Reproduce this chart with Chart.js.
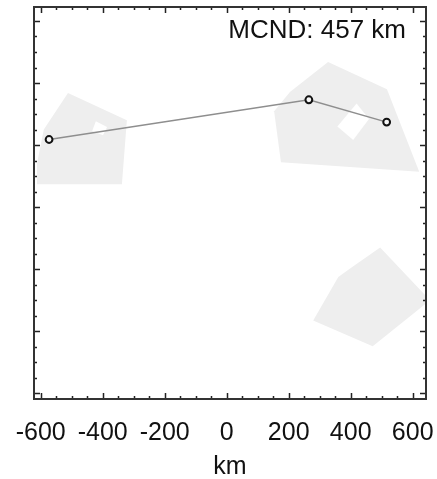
<!DOCTYPE html>
<html>
<head>
<meta charset="utf-8">
<script src="https://cdn.jsdelivr.net/npm/chart.js@4/dist/chart.umd.min.js"></script>
<style>
  body { margin: 0; background: #fff; }
  #wrap { width: 437px; height: 479px; }
</style>
</head>
<body>
<div id="wrap"><canvas id="mapChart" width="437" height="479"></canvas></div>
<script>
// route between the three sites (km)
const routeX = [-573, 265, 516];
const routeY = [218, 346, 274];

// grey regions (km), outline points in drawing order
const regionAX = [-512, -322, -338, -613, -612, -590];
const regionAY = [368, 280, 74, 74, 140, 250];
const holeAX = [-422, -386, -399, -434];
const holeAY = [277, 258, 232, 245];

const regionBX = [327, 517, 621, 175, 153, 204];
const regionBY = [468, 380, 114, 145, 309, 371];
const holeBX = [419, 459, 408, 357];
const holeBY = [334, 284, 216, 260];

const regionCX = [495, 656, 471, 279, 360, 398];
const regionCY = [-130, -300, -448, -365, -225, -198];

const xTickLabels = [-600, -400, -200, 0, 200, 400, 600];
const minorStep = 50;
const xRange = [-621.6, 642.9];
const yRange = [-618.4, 645];
const xTitle = 'km';
const noteText = 'MCND: 457 km';

const FONT = '"Liberation Sans", Arial, Helvetica, sans-serif';

function toPoints(xs, ys) {
  return xs.map((x, i) => ({ x: x, y: ys[i] }));
}

function shape(xs, ys, color) {
  return {
    data: toPoints(xs, ys),
    backgroundColor: color,
    borderWidth: 0,
    pointRadius: 0,
    fill: 'shape',
    tension: 0
  };
}

// frame, inward ticks on all four sides, and the note in the corner
const framePlugin = {
  id: 'frame',
  afterDraw(chart) {
    const { ctx, chartArea: a, scales } = chart;
    ctx.save();
    ctx.strokeStyle = '#222';
    ctx.lineWidth = 1.5;
    ctx.beginPath();
    for (let v = -600; v <= xRange[1]; v += minorStep) {
      const len = v % 200 === 0 ? 6 : 3;
      const px = Math.round(scales.x.getPixelForValue(v)) + 0.5;
      ctx.moveTo(px, a.bottom); ctx.lineTo(px, a.bottom - len);
      ctx.moveTo(px, a.top); ctx.lineTo(px, a.top + len);
    }
    for (let v = -600; v <= yRange[1]; v += minorStep) {
      const len = v % 200 === 0 ? 6 : 3;
      const py = Math.round(scales.y.getPixelForValue(v)) + 0.5;
      ctx.moveTo(a.left, py); ctx.lineTo(a.left + len, py);
      ctx.moveTo(a.right, py); ctx.lineTo(a.right - len, py);
    }
    ctx.stroke();
    ctx.lineWidth = 2;
    ctx.strokeStyle = '#333';
    ctx.strokeRect(a.left, a.top, a.right - a.left, a.bottom - a.top);

    ctx.fillStyle = '#111';
    ctx.font = '26px ' + FONT;
    ctx.textAlign = 'right';
    ctx.textBaseline = 'alphabetic';
    ctx.fillText(noteText, a.right - 20, a.top + 31);
    ctx.restore();
  }
};

const ctx = document.getElementById('mapChart').getContext('2d');
new Chart(ctx, {
  type: 'line',
  data: {
    datasets: [
      {
        data: toPoints(routeX, routeY),
        borderColor: '#8e8e8e',
        borderWidth: 1.5,
        pointRadius: 3.4,
        pointBorderWidth: 2,
        pointBorderColor: '#111',
        pointBackgroundColor: '#f6f6f6',
        fill: false,
        tension: 0
      },
      shape(holeAX, holeAY, '#ffffff'),
      shape(holeBX, holeBY, '#ffffff'),
      shape(regionAX, regionAY, '#eeeeee'),
      shape(regionBX, regionBY, '#eeeeee'),
      shape(regionCX, regionCY, '#eeeeee')
    ]
  },
  options: {
    responsive: false,
    animation: false,
    events: [],
    layout: { padding: { left: 34, right: 11, top: 7, bottom: 0 } },
    plugins: {
      legend: { display: false },
      tooltip: { enabled: false }
    },
    scales: {
      x: {
        type: 'linear',
        min: xRange[0],
        max: xRange[1],
        grid: { display: false, drawTicks: false },
        border: { display: false },
        afterBuildTicks: (scale) => {
          scale.ticks = xTickLabels.map(v => ({ value: v }));
        },
        afterFit: (scale) => {
          scale.height = 80;
          scale.paddingLeft = 0;
          scale.paddingRight = 0;
        },
        ticks: {
          maxRotation: 0,
          autoSkip: false,
          padding: 19,
          color: '#111',
          font: { family: FONT, size: 25 },
          callback: (v) => String(v)
        },
        title: {
          display: true,
          text: xTitle,
          color: '#111',
          padding: { top: 0, bottom: -1 },
          font: { family: FONT, size: 25, lineHeight: 1 }
        }
      },
      y: {
        type: 'linear',
        display: false,
        min: yRange[0],
        max: yRange[1]
      }
    }
  },
  plugins: [framePlugin]
});
</script>
</body>
</html>
